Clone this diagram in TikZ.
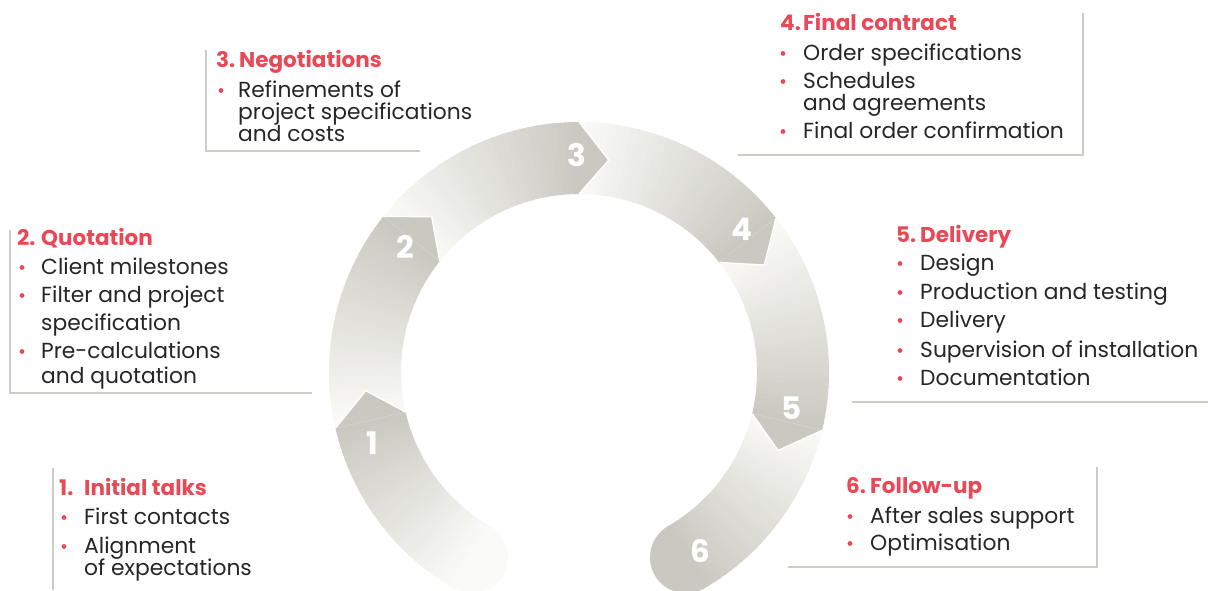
\documentclass[tikz,border=0pt]{standalone}
\usepackage{fontspec}
\setmainfont{Poppins}
\definecolor{redh}{RGB}{233,72,87}
\definecolor{txt}{RGB}{38,38,38}
\definecolor{ringdark}{RGB}{202,201,193}
\definecolor{ringlight}{RGB}{250,250,248}
\definecolor{rulec}{RGB}{205,204,198}
\begin{document}
\begin{tikzpicture}[x=1pt,y=-1pt,
  headtxt/.style={anchor=base west, font=\fontsize{21.5}{21.5}\selectfont\bfseries, text=redh, inner sep=0pt},
  itemtxt/.style={anchor=base west, font=\fontsize{21.8}{21.8}\selectfont, text=txt, inner sep=0pt},
  reddot/.style={fill=redh},
  boxrule/.style={draw=rulec, line width=1.4pt},
  numtxt/.style={font=\fontsize{31}{31}\selectfont\bfseries, text=white, inner sep=0pt}]
\useasboundingbox (0,0) rectangle (1208,590);
% ---------------- ring ----------------
\begin{scope}[shift={(579,372)}, yscale=-1]
\def\Ri{178}\def\Ro{250}\def\Rm{214}
% tail cap of segment 1 (light)
\fill[ringlight] (240:\Ro) arc[start angle=240, end angle=420, radius=36] -- cycle;
% end cap of segment 6 (dark)
\fill[ringdark] (-60:\Ro) arc[start angle=-60, end angle=-240, radius=36] -- cycle;
\foreach \a/\b in {240/193, 193/141.5, 141.5/90, 90/38, 38/-13.5, -13.5/-60}{
  \foreach \i in {0,...,29}{
    \pgfmathsetmacro\ta{\a-(\a-\b)*\i/30}
    \pgfmathsetmacro\tb{\a-(\a-\b)*(\i+1)/30-0.4}
    \pgfmathsetmacro\p{100*\i/29}
    \fill[ringdark!\p!ringlight] (\ta:\Ri) -- (\ta:\Ro)
      arc[start angle=\ta, end angle=\tb, radius=\Ro] -- (\tb:\Ri)
      arc[start angle=\tb, end angle=\ta, radius=\Ri] -- cycle;
  }
}
\foreach \b in {193,141.5,90,38,-13.5}{
  \pgfmathsetmacro\t{\b-8}
  \fill[ringdark] (\b:\Ro) -- (\t:\Rm) -- (\b:\Ri) -- cycle;
  \draw[white, line width=1.3pt, line join=miter] (\b:\Ro) -- (\t:\Rm) -- (\b:\Ri);
}
\end{scope}
% numbers
\node[numtxt] (n1) at (372,443) {1};
\node[numtxt] (n2) at (405,247) {2};
\node[numtxt] (n3) at (577,155) {3};
\node[numtxt] (n4) at (742,229) {4};
\node[numtxt] (n5) at (792,408) {5};
\node[numtxt] (n6) at (700,551) {6};
% ---------------- box 1 ----------------
\draw[boxrule] (53,468) -- (53,590);
\node[headtxt] (h1) at (59,495) {\makebox[25pt][l]{1.}Initial talks};
\fill[reddot] (64,517.5) circle (2.4);
\node[itemtxt] (t1a) at (84,524) {First contacts};
\fill[reddot] (64,546.5) circle (2.4);
\node[itemtxt] (t1b) at (84,553) {Alignment};
\node[itemtxt] (t1c) at (84,575) {of expectations};
% ---------------- box 2 ----------------
\draw[boxrule] (10,230) -- (10,393) -- (312,393);
\node[headtxt] (h2) at (17,245) {\makebox[24pt][l]{2.}Quotation};
\fill[reddot] (22,267.5) circle (2.4);
\node[itemtxt] (t2a) at (41,274) {Client milestones};
\fill[reddot] (22,295.5) circle (2.4);
\node[itemtxt] (t2b) at (41,302) {Filter and project};
\node[itemtxt] (t2c) at (41,330) {specification};
\fill[reddot] (22,351.5) circle (2.4);
\node[itemtxt] (t2d) at (41,358) {Pre-calculations};
\node[itemtxt] (t2e) at (41,383) {and quotation};
% ---------------- box 3 ----------------
\draw[boxrule] (206,50) -- (206,151) -- (420,151);
\node[headtxt] (h3) at (216,67) {\makebox[23pt][l]{3.}Negotiations};
\fill[reddot] (221,90.5) circle (2.4);
\node[itemtxt] (t3a) at (238,97) {Refinements of};
\node[itemtxt] (t3b) at (238,119) {project specifications};
\node[itemtxt] (t3c) at (238,141) {and costs};
% ---------------- box 4 ----------------
\draw[boxrule] (1083,13) -- (1083,155) -- (738,155);
\node[headtxt] (h4) at (780,30) {\makebox[23pt][l]{4.}Final contract};
\fill[reddot] (783,53.5) circle (2.4);
\node[itemtxt] (t4a) at (803,60) {Order specifications};
\fill[reddot] (783,81.5) circle (2.4);
\node[itemtxt] (t4b) at (803,88) {Schedules};
\node[itemtxt] (t4c) at (803,110) {and agreements};
\fill[reddot] (783,131.5) circle (2.4);
\node[itemtxt] (t4d) at (803,138) {Final order confirmation};
% ---------------- box 5 ----------------
\draw[boxrule] (852,402) -- (1208,402);
\node[headtxt] (h5) at (896,242) {\makebox[24pt][l]{5.}Delivery};
\fill[reddot] (900,263.5) circle (2.4);
\node[itemtxt] (t5a) at (920,270) {Design};
\fill[reddot] (900,292.5) circle (2.4);
\node[itemtxt] (t5b) at (920,299) {Production and testing};
\fill[reddot] (900,320.5) circle (2.4);
\node[itemtxt] (t5c) at (920,327) {Delivery};
\fill[reddot] (900,350.5) circle (2.4);
\node[itemtxt] (t5d) at (920,357) {Supervision of installation};
\fill[reddot] (900,378.5) circle (2.4);
\node[itemtxt] (t5e) at (920,385) {Documentation};
% ---------------- box 6 ----------------
\draw[boxrule] (1097,467) -- (1097,567) -- (788,567);
\node[headtxt] (h6) at (846,493) {\makebox[24pt][l]{6.}Follow-up};
\fill[reddot] (850,516.5) circle (2.4);
\node[itemtxt] (t6a) at (870,523) {After sales support};
\fill[reddot] (850,543.5) circle (2.4);
\node[itemtxt] (t6b) at (870,550) {Optimisation};
\end{tikzpicture}
\end{document}
